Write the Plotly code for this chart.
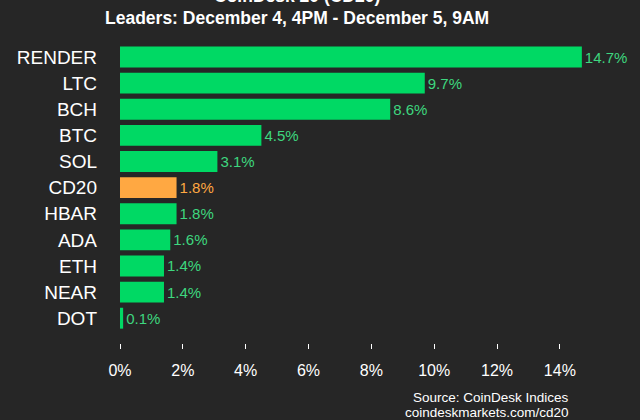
import plotly.graph_objects as go

coins = ["RENDER", "LTC", "BCH", "BTC", "SOL", "CD20", "HBAR", "ADA", "ETH", "NEAR", "DOT"]
changes = [14.7, 9.7, 8.6, 4.5, 3.1, 1.8, 1.8, 1.6, 1.4, 1.4, 0.1]
labels = ["14.7%", "9.7%", "8.6%", "4.5%", "3.1%", "1.8%", "1.8%", "1.6%", "1.4%", "1.4%", "0.1%"]
tick_vals = [0, 2, 4, 6, 8, 10, 12, 14]
tick_text = ["0%", "2%", "4%", "6%", "8%", "10%", "12%", "14%"]

GREEN = "#00d964"
ORANGE = "#ffa842"
bar_colors = [ORANGE if c == "CD20" else GREEN for c in coins]
text_colors = [ORANGE if c == "CD20" else "#3ed77f" for c in coins]

PLOT_TOP, PLOT_H = 44, 299

def py(px):
    return 1 - (px - PLOT_TOP) / PLOT_H

fig = go.Figure(go.Bar(
    x=changes, y=coins, orientation="h",
    marker=dict(color=bar_colors, line=dict(width=0)),
    text=labels, textposition="outside", cliponaxis=False,
    textfont=dict(color=text_colors, size=15, family="Liberation Sans, Arial"),
    width=0.8,
))

fig.update_layout(
    width=640, height=420,
    paper_bgcolor="#262626", plot_bgcolor="#262626",
    margin=dict(l=120, r=33, t=PLOT_TOP, b=420 - PLOT_TOP - PLOT_H),
    font=dict(family="Liberation Sans, Arial", color="white"),
    showlegend=False,
    xaxis=dict(range=[0, 15.5], tickvals=tick_vals, ticktext=tick_text,
               showgrid=False, zeroline=False, showline=False,
               ticks="outside", ticklen=5, tickcolor="white", tickwidth=1,
               ticklabelstandoff=8,
               tickfont=dict(size=16, color="white")),
    yaxis=dict(categoryorder="array", categoryarray=coins, range=[10.95, -0.5],
               showgrid=False, zeroline=False, showline=False, ticks="",
               ticklabelstandoff=22,
               tickfont=dict(size=19, color="white")),
    annotations=[
        dict(text="<b>CoinDesk 20 (CD20)</b>", xref="paper", yref="paper",
             x=(297 - 120) / 487, y=py(-4), xanchor="center", yanchor="middle",
             showarrow=False, font=dict(size=17.5, color="white")),
        dict(text="<b>Leaders: December 4, 4PM - December 5, 9AM</b>", xref="paper", yref="paper",
             x=(297 - 120) / 487, y=py(18), xanchor="center", yanchor="middle",
             showarrow=False, font=dict(size=17.5, color="white")),
        dict(text="Source: CoinDesk Indices", xref="paper", yref="paper",
             x=(571 - 120) / 487, y=py(397), xanchor="right", yanchor="middle",
             showarrow=False, font=dict(size=13.5, color="white")),
        dict(text="coindeskmarkets.com/cd20", xref="paper", yref="paper",
             x=(571 - 120) / 487, y=py(412), xanchor="right", yanchor="middle",
             showarrow=False, font=dict(size=13.5, color="white")),
    ],
)

fig.write_html("out.html", config={"displayModeBar": False},
               post_script="document.body.style.margin='0';document.body.style.padding='0';")
